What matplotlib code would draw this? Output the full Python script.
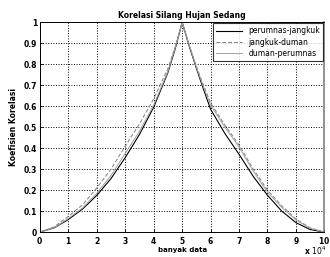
import numpy as np
import matplotlib.pyplot as plt
from matplotlib.ticker import ScalarFormatter, FormatStrFormatter

# lag axis (banyak data) and the three cross-correlation curves
lag = [0, 5000, 10000, 15000, 20000, 25000, 30000, 35000, 40000, 45000, 47500,
       50000, 52500, 55000, 57500, 60000, 65000, 70000, 75000, 80000, 85000,
       90000, 95000, 100000]
perumnas_jangkuk = [0, 0.02, 0.06, 0.11, 0.175, 0.255, 0.355, 0.465, 0.595, 0.76, 0.87,
                    1.0, 0.885, 0.78, 0.68, 0.585, 0.47, 0.37, 0.265, 0.175, 0.10,
                    0.045, 0.012, 0]
jangkuk_duman = [0, 0.025, 0.075, 0.13, 0.21, 0.30, 0.41, 0.515, 0.635, 0.78, 0.88,
                 0.99, 0.89, 0.79, 0.70, 0.615, 0.51, 0.415, 0.30, 0.20, 0.125,
                 0.062, 0.02, 0]
duman_perumnas = [0, 0.02, 0.065, 0.115, 0.185, 0.27, 0.375, 0.48, 0.605, 0.765, 0.875,
                  1.0, 0.89, 0.785, 0.69, 0.605, 0.50, 0.405, 0.29, 0.19, 0.118,
                  0.058, 0.018, 0]

fig = plt.figure(figsize=(3.3, 2.57), dpi=100)
ax = fig.add_axes([0.121, 0.097, 0.862, 0.817])

ax.plot(lag, perumnas_jangkuk, color='black', lw=0.8, label='perumnas-jangkuk')
ax.plot(lag, jangkuk_duman, color='#808080', lw=0.7, ls=(0, (4, 2)), label='jangkuk-duman')
ax.plot(lag, duman_perumnas, color='#a0a0a0', lw=0.7, label='duman-perumnas')

ax.set_xlim(0, 100000)
ax.set_ylim(0, 1)
ax.set_xticks(np.arange(0, 100001, 10000))
ax.set_yticks(np.arange(0, 1.01, 0.1))

fmt = ScalarFormatter(useMathText=True)
fmt.set_powerlimits((4, 4))
ax.xaxis.set_major_formatter(fmt)
ax.yaxis.set_major_formatter(FormatStrFormatter('%g'))
ax.xaxis.get_offset_text().set_visible(False)
fig.text(0.99, 0.0, r'x $10^4$', fontsize=5.5, fontweight='bold', ha='right', va='bottom')

ax.tick_params(labelsize=5.5, length=2, width=0.6, direction='in', pad=2)
for lab in ax.get_xticklabels() + ax.get_yticklabels():
    lab.set_fontweight('bold')

ax.grid(True, color='black', ls=':', lw=0.7)
for s in ax.spines.values():
    s.set_linewidth(0.7)
ax.spines['right'].set_color('#808080')
ax.spines['right'].set_linewidth(1.2)

ax.set_title('Korelasi Silang Hujan Sedang', fontsize=5.5, fontweight='bold', pad=3)
ax.set_xlabel('banyak data', fontsize=5, fontweight='bold', labelpad=1)
ax.set_ylabel('Koefisien Korelasi', fontsize=5.5, fontweight='bold', labelpad=4)

leg = ax.legend(loc='upper right', fontsize=5.5, frameon=True, fancybox=False,
                edgecolor='black', borderaxespad=0.15, handlelength=3.5,
                labelspacing=0.3, borderpad=0.4)
leg.get_frame().set_linewidth(0.8)

fig.savefig('out.png', dpi=100)
